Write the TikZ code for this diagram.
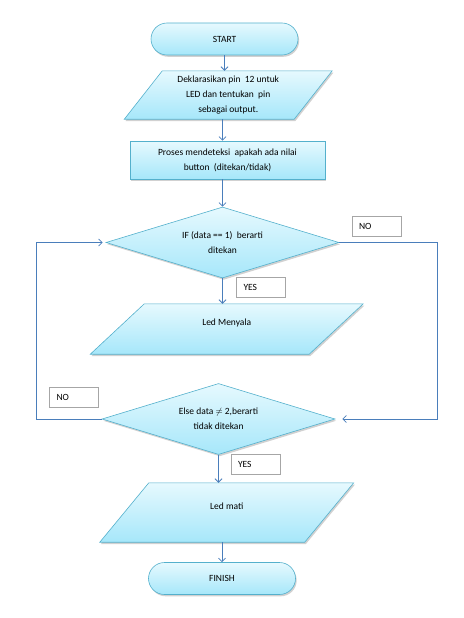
\documentclass[tikz,border=0pt]{standalone}
\usepackage{fontspec}
\setmainfont{Carlito}
\usetikzlibrary{shapes.geometric,arrows.meta,shadows,backgrounds,calc}

\definecolor{shapeline}{RGB}{84,176,204}
\definecolor{shapetop}{RGB}{230,249,254}
\definecolor{shapebot}{RGB}{166,231,250}
\definecolor{flowline}{RGB}{74,126,187}
\definecolor{tagline}{RGB}{166,166,166}

\tikzstyle{flowfill} = [draw=shapeline,line width=0.6pt,top color=shapetop,bottom color=shapebot,drop shadow={shadow xshift=1.2pt,shadow yshift=-1.8pt,fill=black!30,opacity=0.6}]
\tikzstyle{terminal} = [flowfill,rectangle,rounded corners=16pt,minimum width=147pt,minimum height=32pt]
\tikzstyle{process} = [flowfill,rectangle,minimum width=195pt,minimum height=38pt,align=center]
\tikzstyle{decision} = [flowfill,diamond,aspect=3.3,inner sep=0pt,minimum width=233pt,minimum height=71pt,align=center]
\tikzstyle{io} = [rectangle,align=center]
\tikzstyle{tag} = [draw=tagline,fill=white,inner xsep=7pt,text width=35pt,minimum height=20pt,align=left]
\tikzstyle{flowarrow} = [draw=flowline,line width=0.8pt,-{Straight Barb[length=3.5pt,width=7pt]}]

% parallelogram behind a named io node
\newcommand{\drawio}[2]{%
  \begin{scope}[on background layer]
  \path[flowfill] ($(#1.north west)+(#2,0)$) -- ($(#1.north east)+(#2,0)$) -- ($(#1.south east)-(#2,0)$) -- ($(#1.south west)-(#2,0)$) -- cycle;
  \end{scope}}

\begin{document}
\begin{tikzpicture}[x=1pt,y=-1pt,every node/.style={font=\fontsize{9.5pt}{15pt}\selectfont}]
\useasboundingbox (0,0) rectangle (463,618);

\node[terminal] (start) at (224.5,39) {START};
\node[io,minimum width=169.5pt,minimum height=48pt] (decl) at (228.25,95) {Deklarasikan pin~ 12 untuk\\LED dan tentukan~ pin\\sebagai output.};
\drawio{decl}{19}
\node[process] (proc) at (227.5,160) {Proses mendeteksi~ apakah ada nilai\\button~ (ditekan/tidak)};
\node[decision] (cek) at (222.5,242.5) {IF (data == 1)~ berarti\\ditekan};
\node[io,minimum width=218.5pt,minimum height=50pt,text depth=14pt] (nyala) at (226.75,329) {Led Menyala};
\drawio{nyala}{27}
\node[decision] (cek2) at (218.5,419) {Else data $\neq$ 2,berarti\\tidak ditekan};
\node[io,minimum width=204.5pt,minimum height=59pt,text depth=13pt] (mati) at (226.75,512.5) {Led mati};
\drawio{mati}{24.5}
\node[terminal] (finish) at (222,578.5) {FINISH};

\node[tag] (no1) at (376.5,226) {NO};
\node[tag] (yes1) at (261,287.5) {YES};
\node[tag] (no2) at (74,397) {NO};
\node[tag] (yes2) at (255.5,464) {YES};

\draw[flowarrow] (start.south) -- (start.south |- decl.north);
\draw[flowarrow] (cek.north |- decl.south) -- (cek.north |- proc.north);
\draw[flowarrow] (cek.north |- proc.south) -- (cek.north);
\draw[flowarrow] (cek.south) -- (cek.south |- nyala.north);
\draw[flowarrow] (cek2.south) -- (cek2.south |- mati.north);
\draw[flowarrow] (finish.north |- mati.south) -- (finish.north);
\draw[flowarrow,shorten >=7pt] (cek.east) -- ++(98,0) |- (cek2.east);
\draw[flowarrow,shorten >=3pt] (cek2.west) -- ++(-65,0) |- (cek.west);
\end{tikzpicture}
\end{document}
